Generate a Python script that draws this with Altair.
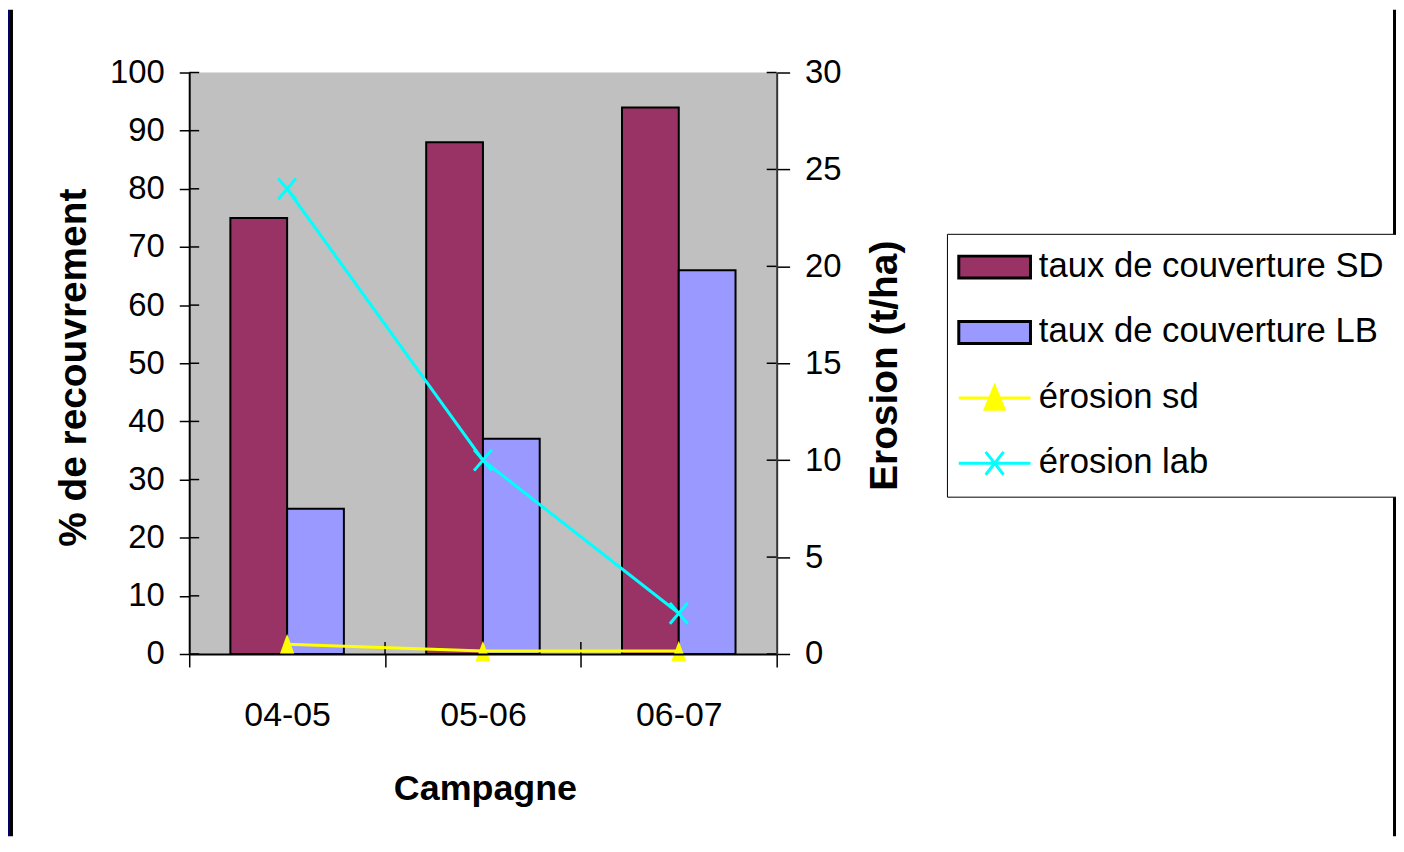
import altair as alt
import pandas as pd

# ---------------- data ----------------
categories = ["04-05", "05-06", "06-07"]
cover_sd = [75, 88, 94]
cover_lb = [25, 37, 66]
erosion_sd = [0.5, 0.15, 0.15]
erosion_lab = [24, 10, 2.1]
left_tick_values = [0, 10, 20, 30, 40, 50, 60, 70, 80, 90, 100]
right_tick_values = [0, 5, 10, 15, 20, 25, 30]
series_names = ["taux de couverture SD", "taux de couverture LB", "érosion sd", "érosion lab"]
series_fill = ["#993366", "#9999FF", "#FFFF00", "#00FFFF"]
series_stroke = ["#000000", "#000000", "#FFFF00", "#00FFFF"]

FONT = "Liberation Sans"
W, H = 590, 584

bars_df = pd.DataFrame({
    "category": categories * 2,
    "series": [series_names[0]] * 3 + [series_names[1]] * 3,
    "value": cover_sd + cover_lb,
})
sd_df = pd.DataFrame({"category": categories, "erosion": erosion_sd})
lab_df = pd.DataFrame({"category": categories, "erosion": erosion_lab})
lt_df = pd.DataFrame({"value": left_tick_values})
rt_df = pd.DataFrame({"erosion": right_tick_values})
xt_df = pd.DataFrame({"category": categories[1:]})
one = pd.DataFrame({"k": [0]})
leg_df = pd.DataFrame({"series": series_names})

# symbol paths
RECT_L = "M-3.6,-1.1H3.6V1.1H-3.6Z"
TRI_L = "M-3.6,0H3.6M0,-1.15L0.95,1.15H-0.95Z"
X_L = "M-3.6,0H3.6M-0.9,-1.15L0.9,1.15M-0.9,1.15L0.9,-1.15"
TRI = "M0,-1L0.72,1H-0.72Z"
XM = "M-0.85,-1L0.85,1M-0.85,1L0.85,-1"

# ---------------- scales / axes ----------------
x_scale = alt.Scale(domain=categories, paddingInner=0, paddingOuter=0)
x_axis = alt.Axis(
    title="Campagne", tickBand="extent", labelAngle=0, grid=False,
    domainColor="black", domainWidth=2, tickColor="black", tickWidth=1.5, tickSize=13,
    labelFont=FONT, labelFontSize=34, labelColor="black", labelPadding=32,
    titleFont=FONT, titleFontWeight="bold", titleFontSize=36, titleColor="black",
    titleX=297, titleY=146, titleAlign="center", titleBaseline="alphabetic", zindex=1,
)
X = alt.X("category:N", scale=x_scale, axis=x_axis)

y_left_axis = alt.Axis(
    values=left_tick_values, title="% de recouvrement", grid=False,
    domainColor="black", domainWidth=2, tickColor="black", tickWidth=1.5, tickSize=10,
    labelFont=FONT, labelFontSize=33, labelColor="black", labelPadding=15,
    titleFont=FONT, titleFontWeight="bold", titleFontSize=39, titleColor="black",
    titleAngle=270, titleX=-104, titleY=296, titleAlign="center", titleBaseline="alphabetic",
    zindex=1,
)
Y_L = alt.Y("value:Q", scale=alt.Scale(domain=[0, 100], nice=False), axis=y_left_axis)

y_right_axis = alt.Axis(
    orient="right", values=right_tick_values, title="Erosion (t/ha)", grid=False,
    domainColor="#333333", domainWidth=2, tickColor="black", tickWidth=1.5, tickSize=13,
    labelFont=FONT, labelFontSize=33, labelColor="black", labelPadding=15,
    titleFont=FONT, titleFontWeight="bold", titleFontSize=39, titleColor="black",
    titleAngle=270, titleX=120, titleY=294, titleAlign="center", titleBaseline="alphabetic",
    zindex=1,
)
Y_R = alt.Y("erosion:Q", scale=alt.Scale(domain=[0, 30], nice=False), axis=y_right_axis)

color_scale = alt.Scale(domain=series_names, range=series_fill)
stroke_scale = alt.Scale(domain=series_names, range=series_stroke)
shape_scale = alt.Scale(domain=series_names, range=[RECT_L, RECT_L, TRI_L, X_L])

LEG = alt.Legend(
    title=None, orient="none", legendX=761, legendY=162,
    strokeColor="black", fillColor="white", padding=16,
    labelFont=FONT, labelFontSize=34.8, labelColor="black", labelLimit=1000,
    symbolSize=400, symbolStrokeWidth=3,
    rowPadding=29.7, labelOffset=27, symbolOffset=14.5, zindex=1,
)

# ---------------- frame strips ----------------
left_navy = alt.Chart(one).mark_rect(color="#000066").encode(
    x=alt.value(-182), x2=alt.value(-180), y=alt.value(-63), y2=alt.value(767))
left_border = alt.Chart(one).mark_rect(color="black").encode(
    x=alt.value(-180), x2=alt.value(-177), y=alt.value(-63), y2=alt.value(767))
right_border = alt.Chart(one).mark_rect(color="black").encode(
    x=alt.value(1209), x2=alt.value(1212), y=alt.value(-63), y2=alt.value(767))
plot_bg = alt.Chart(one).mark_rect(color="#C0C0C0").encode(
    x=alt.value(0), x2=alt.value(W), y=alt.value(0), y2=alt.value(H))

# legend carrier layer (drawn first, hidden under the plot background)
legend_layer = alt.Chart(leg_df).mark_point(filled=True, opacity=1, strokeWidth=3, size=400).encode(
    color=alt.Color("series:N", scale=color_scale, legend=LEG),
    stroke=alt.Stroke("series:N", scale=stroke_scale, legend=LEG),
    shape=alt.Shape("series:N", scale=shape_scale, legend=LEG),
)

# ---------------- left group ----------------
bars = alt.Chart(bars_df).mark_bar(stroke="black", strokeWidth=2).encode(
    x=X,
    xOffset=alt.XOffset("series:N", scale=alt.Scale(domain=series_names[:2], paddingInner=0, paddingOuter=0.725)),
    y=Y_L,
    color=alt.Color("series:N", scale=color_scale, legend=None),
)
left_in_ticks = alt.Chart(lt_df).mark_rule(color="black", strokeWidth=1.5).encode(
    y=Y_L, x=alt.value(0), x2=alt.value(10))
x_in_ticks = alt.Chart(xt_df).mark_rule(color="black", strokeWidth=1.5).encode(
    x=alt.X("category:N", scale=x_scale, axis=x_axis, bandPosition=0),
    y=alt.value(H - 12), y2=alt.value(H))

left_group = alt.layer(legend_layer, left_navy, left_border, right_border, plot_bg, bars, left_in_ticks, x_in_ticks)

# ---------------- right group ----------------
right_in_ticks = alt.Chart(rt_df).mark_rule(color="black", strokeWidth=1.5).encode(
    y=Y_R, x=alt.value(W - 10), x2=alt.value(W))
line_sd = alt.Chart(sd_df).mark_line(color="#FFFF00", strokeWidth=3).encode(x=X, y=Y_R)
pts_sd = alt.Chart(sd_df).mark_point(shape=TRI, filled=True, color="#FFFF00", size=441, opacity=1).encode(x=X, y=Y_R)
line_lab = alt.Chart(lab_df).mark_line(color="#00FFFF", strokeWidth=3).encode(x=X, y=Y_R)
pts_lab = alt.Chart(lab_df).mark_point(shape=XM, filled=False, color="#00FFFF", size=441, strokeWidth=3, opacity=1).encode(x=X, y=Y_R)

right_group = alt.layer(right_in_ticks, line_sd, pts_sd, line_lab, pts_lab)

chart = alt.layer(left_group, right_group).resolve_scale(y="independent").properties(
    width=W, height=H,
    autosize=alt.AutoSizeParams(type="none"),
    padding={"left": 182, "top": 63, "right": 622, "bottom": 183},
).configure(background="white").configure_view(stroke="transparent")

chart.save("out.html", embed_options={"renderer": "svg", "actions": False})
